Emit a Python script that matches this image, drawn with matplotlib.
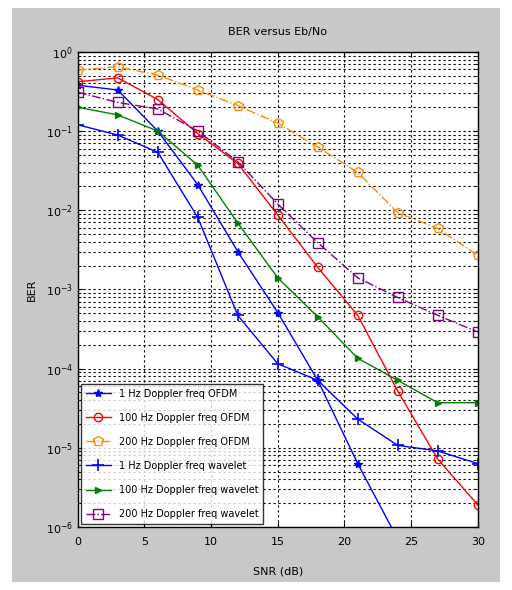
import numpy as np
import matplotlib
matplotlib.use("Agg")
import matplotlib.pyplot as plt
from matplotlib.patches import Rectangle
from matplotlib.ticker import FixedLocator, NullFormatter

#   BER curves, Eb/No in dB, step 3 dB

snr = [0, 3, 6, 9, 12, 15, 18, 21, 24, 27, 30]

ber_1hz_ofdm = [0.38, 0.33, 0.10, 0.021, 3.0e-3, 5.1e-4, 7.1e-5, 6.3e-6, 7e-7, np.nan, np.nan]
ber_100hz_ofdm = [0.42, 0.47, 0.25, 0.093, 0.039, 8.7e-3, 1.9e-3, 4.7e-4, 5.2e-5, 7.2e-6, 1.9e-6]
ber_200hz_ofdm = [0.59, 0.65, 0.51, 0.33, 0.21, 0.126, 0.063, 0.030, 9.3e-3, 5.9e-3, 2.7e-3]
ber_1hz_wav = [0.12, 0.089, 0.054, 8.1e-3, 4.7e-4, 1.15e-4, 7.1e-5, 2.3e-5, 1.07e-5, 9.1e-6, 6.3e-6]
ber_100hz_wav = [0.20, 0.16, 0.10, 0.037, 6.9e-3, 1.4e-3, 4.5e-4, 1.35e-4, 7.1e-5, 3.7e-5, 3.7e-5]
ber_200hz_wav = [0.31, 0.23, 0.19, 0.10, 0.041, 0.012, 3.9e-3, 1.4e-3, 7.9e-4, 4.7e-4, 2.9e-4]

labels = ["1 Hz Doppler freq OFDM", "100 Hz Doppler freq OFDM", "200 Hz Doppler freq OFDM",
          "1 Hz Doppler freq wavelet", "100 Hz Doppler freq wavelet", "200 Hz Doppler freq wavelet"]

yticks = [1e-6, 1e-5, 1e-4, 1e-3, 1e-2, 1e-1, 1]
yminor = [m * d for d in yticks[:-1] for m in range(2, 10)]

fig = plt.figure(figsize=(5.12, 5.9), dpi=100)
fig.patch.set_facecolor("white")
# matlab style grey figure panel
fig.patches.append(Rectangle((0.023, 0.014), 0.953, 0.972, transform=fig.transFigure,
                             facecolor="#c8c8c8", edgecolor="none", zorder=-10))

ax = fig.add_axes([0.152, 0.107, 0.781, 0.805])
ax.set_facecolor("white")

ax.semilogy(snr, ber_1hz_ofdm, "-", color="#0000ff", marker="*", ms=6, lw=1, label=labels[0])
ax.semilogy(snr, ber_100hz_ofdm, "-", color="#ff0000", marker="o", ms=6, mfc="none", lw=1, label=labels[1])
ax.semilogy(snr, ber_200hz_ofdm, "-.", color="#ff8c00", marker="p", ms=7, mfc="none", lw=1, label=labels[2])
ax.semilogy(snr, ber_1hz_wav, "-", color="#0000ff", marker="+", ms=9, mew=1.2, lw=1, label=labels[3])
ax.semilogy(snr, ber_100hz_wav, "-", color="#008000", marker=">", ms=5, lw=1, label=labels[4])
ax.semilogy(snr, ber_200hz_wav, "-.", color="#800080", marker="s", ms=7, mfc="none", lw=1, label=labels[5])

ax.set_xlim(0, 30)
ax.set_ylim(1e-6, 1)
ax.set_xticks([0, 5, 10, 15, 20, 25, 30])
ax.set_yticks(yticks)
ax.yaxis.set_minor_locator(FixedLocator(yminor))
ax.yaxis.set_minor_formatter(NullFormatter())
ax.grid(True, which="major", color="black", linestyle=(0, (2, 2.5)), lw=0.8)
ax.grid(True, which="minor", axis="y", color="black", linestyle=(0, (2, 2.5)), lw=0.8)
ax.tick_params(which="both", direction="in", top=True, right=True, labelsize=8)
ax.tick_params(axis="x", pad=7)
for s in ax.spines.values():
    s.set_linewidth(1)

ax.set_title("BER versus Eb/No", fontsize=8, pad=12)
ax.set_xlabel("SNR (dB)", fontsize=8, labelpad=14)
ax.set_ylabel("BER", fontsize=8, labelpad=6)

leg = ax.legend(loc="lower left", fontsize=7, frameon=True, fancybox=False,
                edgecolor="black", borderaxespad=0.3, handlelength=2.6,
                labelspacing=1.45, borderpad=0.5)
leg.get_frame().set_linewidth(1)

fig.savefig("out.png", dpi=100, facecolor=fig.get_facecolor())
